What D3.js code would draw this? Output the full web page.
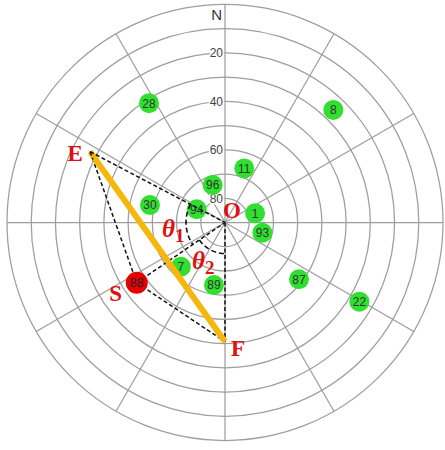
<!DOCTYPE html>
<html>
<head>
<meta charset="utf-8">
<script src="https://cdn.jsdelivr.net/npm/d3@7"></script>
<style>
  html, body { margin: 0; padding: 0; background: #fff; }
  svg { display: block; }
</style>
</head>
<body>
<script>
// Visible satellites: PRN, azimuth (deg, clockwise from north), elevation (deg)
const satPrn = [28, 8, 11, 96, 30, 94, 1, 93, 7, 89, 87, 22];
const satAz  = [327.5, 43.9, 19.6, 341.8, 283.1, 295.0, 73.0, 105.3, 224.9, 190.0, 127.5, 120.5];
const satEl  = [31.6, 25.5, 66.3, 73.7, 58.2, 77.1, 77.0, 74.0, 64.2, 63.8, 51.5, 25.6];

// Obstructed satellite
const blockedPrn = [88];
const blockedAz  = [235.7];
const blockedEl  = [45.9];

// Edge end points of the obstruction
const edgeNames = ["E", "F"];
const edgeAz    = [297.7, 180.0];
const edgeEl    = [27.1, 40.8];

// Grid
const ringEl     = [0, 10, 20, 30, 40, 50, 60, 70, 80];
const ringLabels = [20, 40, 60, 80];
const spokeAz    = [0, 30, 60, 90, 120, 150, 180, 210, 240, 270, 300, 330];

const W = 445, H = 450;
const cx = 225, cy = 222.5, R = 218;

const svg = d3.select("body").append("svg")
  .attr("width", W).attr("height", H);

const r = d3.scaleLinear().domain([90, 0]).range([0, R]);
const rad = d => d * Math.PI / 180;
const px = (az, el) => cx + r(el) * Math.sin(rad(az));
const py = (az, el) => cy - r(el) * Math.cos(rad(az));

// Grid rings and spokes
const grid = svg.append("g").attr("fill", "none").attr("stroke", "#9e9e9e").attr("stroke-width", 1.25);
grid.selectAll("circle").data(ringEl).join("circle")
  .attr("cx", cx).attr("cy", cy).attr("r", d => r(d));
grid.selectAll("line").data(spokeAz).join("line")
  .attr("x1", cx).attr("y1", cy)
  .attr("x2", d => px(d, 0)).attr("y2", d => py(d, 0));

// Elevation labels along the north spoke
svg.append("g").selectAll("text").data(ringLabels).join("text")
  .attr("x", cx - 2).attr("y", d => cy - r(d))
  .attr("dy", "0.36em")
  .attr("text-anchor", "end")
  .attr("font-family", "Liberation Sans, Arial, sans-serif")
  .attr("font-size", 12)
  .attr("fill", "#444")
  .attr("stroke", "#fff").attr("stroke-width", 3).attr("paint-order", "stroke")
  .text(d => d);

svg.append("text")
  .attr("x", cx - 3).attr("y", cy - r(0) + 10)
  .attr("dy", "0.36em")
  .attr("text-anchor", "end")
  .attr("font-family", "Liberation Sans, Arial, sans-serif")
  .attr("font-size", 15)
  .attr("fill", "#333")
  .text("N");

// Visible satellites
const sats = satPrn.map((p, i) => ({ prn: p, x: px(satAz[i], satEl[i]), y: py(satAz[i], satEl[i]) }));
const satG = svg.append("g").selectAll("g").data(sats).join("g")
  .attr("transform", d => `translate(${d.x},${d.y})`);
satG.append("circle").attr("r", 10).attr("fill", "#30df30");
satG.append("text")
  .attr("text-anchor", "middle").attr("dy", "0.36em")
  .attr("font-family", "Liberation Sans, Arial, sans-serif")
  .attr("font-size", 12).attr("fill", "#333")
  .text(d => d.prn);

// Geometry points
const E = { x: px(edgeAz[0], edgeEl[0]), y: py(edgeAz[0], edgeEl[0]) };
const F = { x: px(edgeAz[1], edgeEl[1]), y: py(edgeAz[1], edgeEl[1]) };
const S = { x: px(blockedAz[0], blockedEl[0]), y: py(blockedAz[0], blockedEl[0]) };
const O = { x: cx, y: cy };

// Dashed construction lines
const dashed = [[E, O], [E, S], [S, O], [S, F], [O, F]];
svg.append("g").selectAll("line").data(dashed).join("line")
  .attr("x1", d => d[0].x).attr("y1", d => d[0].y)
  .attr("x2", d => d[1].x).attr("y2", d => d[1].y)
  .attr("stroke", "#111").attr("stroke-width", 1.5)
  .attr("stroke-dasharray", "4,2.5");

// Obstruction edge E–F
svg.append("line")
  .attr("x1", E.x).attr("y1", E.y).attr("x2", F.x).attr("y2", F.y)
  .attr("stroke", "#f6b60c").attr("stroke-width", 6).attr("stroke-linecap", "butt");

// Dashed line starts at E drawn over the edge
svg.append("g").selectAll("line").data([[E, O], [E, S]]).join("line")
  .attr("x1", d => d[0].x).attr("y1", d => d[0].y)
  .attr("x2", d => d[0].x + (d[1].x - d[0].x) * 0.06).attr("y2", d => d[0].y + (d[1].y - d[0].y) * 0.06)
  .attr("stroke", "#111").attr("stroke-width", 1.5).attr("stroke-dasharray", "4,2.5");

// Angle arcs θ1 (E-O to S-O) and θ2 (S-O to F-O)
const angOf = P => Math.atan2(P.y - cy, P.x - cx);
function arcPath(p0, p1, rr) {
  const p = d3.path();
  p.arc(cx, cy, rr, angOf(p0), angOf(p1), true);
  return p.toString();
}
svg.append("path").attr("d", arcPath(E, S, 39))
  .attr("fill", "none").attr("stroke", "#111").attr("stroke-width", 1.6).attr("stroke-dasharray", "5,3");
svg.append("path").attr("d", arcPath(S, F, 31))
  .attr("fill", "none").attr("stroke", "#111").attr("stroke-width", 1.6).attr("stroke-dasharray", "5,3");

// Obstructed satellite
const bG = svg.append("g").attr("transform", `translate(${S.x},${S.y})`);
bG.append("circle").attr("r", 11).attr("fill", "#e50000");
bG.append("text")
  .attr("text-anchor", "middle").attr("dy", "0.36em")
  .attr("font-family", "Liberation Sans, Arial, sans-serif")
  .attr("font-size", 12.5).attr("fill", "#222")
  .text(blockedPrn[0]);

// Point labels
const red = "#e01010";
const serif = "Liberation Serif, Times New Roman, serif";
const lbl = (x, y, t) => svg.append("text")
  .attr("x", x).attr("y", y).attr("dy", "0.35em")
  .attr("text-anchor", "middle")
  .attr("font-family", serif).attr("font-weight", "bold")
  .attr("font-size", 23).attr("fill", red).text(t);
lbl(E.x - 15, E.y + 1, edgeNames[0]);
lbl(F.x + 13, F.y + 6, edgeNames[1]);
lbl(S.x - 21, S.y + 10, "S");
lbl(cx + 7, cy - 13, "O");

function theta(x, y, sub) {
  const t = svg.append("text")
    .attr("x", x).attr("y", y)
    .attr("font-family", serif).attr("font-weight", "bold")
    .attr("font-size", 25).attr("fill", red);
  t.append("tspan").attr("font-style", "italic").text("θ");
  t.append("tspan").attr("font-size", 19).attr("dy", 5).text(sub);
}
theta(cx - 63, cy + 14, "1");
theta(cx - 33, cy + 46, "2");
</script>
</body>
</html>
